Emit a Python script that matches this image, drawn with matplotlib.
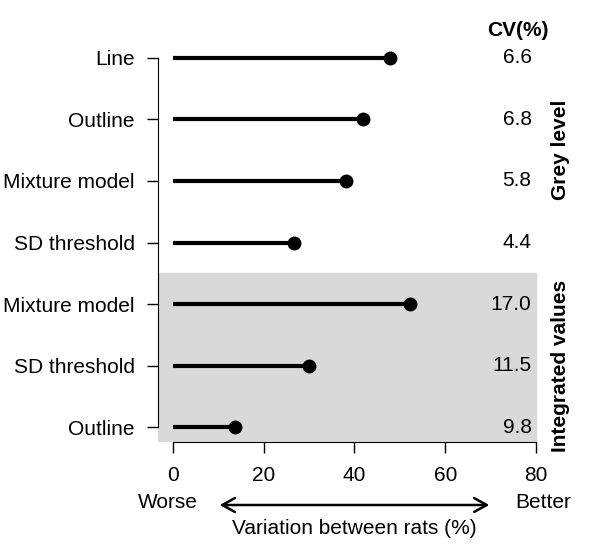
import matplotlib.pyplot as plt

plt.rcParams['font.family'] = ['Liberation Sans', 'DejaVu Sans']

methods = ["Line", "Outline", "Mixture model", "SD threshold",
           "Mixture model", "SD threshold", "Outline"]
variation = [47.9, 41.8, 38.1, 26.7, 52.3, 30.1, 13.8]
cv = ["6.6", "6.8", "5.8", "4.4", "17.0", "11.5", "9.8"]
xticks = [0, 20, 40, 60, 80]

ypos = list(range(len(methods), 0, -1))  # 7 .. 1

fig = plt.figure(figsize=(6, 5.45), dpi=100)
ax = fig.add_axes([0.2637, 0.189, 0.654, 0.732])
ax.set_xlim(-3.2, 83.2)
ax.set_ylim(0.76, 7.24)

# shaded block for integrated values
ax.axhspan(0.76, 3.5, xmin=0, xmax=(80 + 3.2) / 86.4, color='#d9d9d9', zorder=0)

for y, v in zip(ypos, variation):
    ax.plot([0, v], [y, y], color='black', lw=3, solid_capstyle='butt', zorder=2)
ax.plot(variation, ypos, 'o', color='black', ms=9, zorder=3)

for y, c in zip(ypos, cv):
    ax.text(79, y, c, ha='right', va='center', fontsize=15, clip_on=False)
ax.text(76, 7.45, "CV(%)", ha='center', va='center', fontsize=15,
        fontweight='bold', clip_on=False)
ax.text(85.3, 5.5, "Grey level", ha='center', va='center', rotation=90,
        fontsize=15, fontweight='bold', clip_on=False)
ax.text(85.3, 2.0, "Integrated values", ha='center', va='center', rotation=90,
        fontsize=15, fontweight='bold', clip_on=False)

ax.set_yticks(ypos)
ax.set_yticklabels(methods, fontsize=15)
ax.set_xticks(xticks)
ax.set_xticklabels([str(t) for t in xticks], fontsize=15)
ax.tick_params(axis='both', length=8, width=1, pad=9)

for s in ['top', 'right']:
    ax.spines[s].set_visible(False)
ax.spines['left'].set_bounds(1, 7)
ax.spines['bottom'].set_bounds(0, 80)

# labels below the axis
fig.text(168 / 600, 1 - 502 / 545, "Worse", ha='center', va='center', fontsize=15)
fig.text(543 / 600, 1 - 502 / 545, "Better", ha='center', va='center', fontsize=15)
fig.text(354 / 600, 1 - 529 / 545, "Variation between rats (%)", ha='center',
         va='center', fontsize=15)
fig.patches.append(plt.matplotlib.patches.FancyArrowPatch(
    (217 / 600, 1 - 505 / 545), (492 / 600, 1 - 505 / 545),
    transform=fig.transFigure, arrowstyle='<->,head_length=9,head_width=5',
    color='black', lw=1.8, mutation_scale=1))

fig.savefig("out.png", dpi=100)
